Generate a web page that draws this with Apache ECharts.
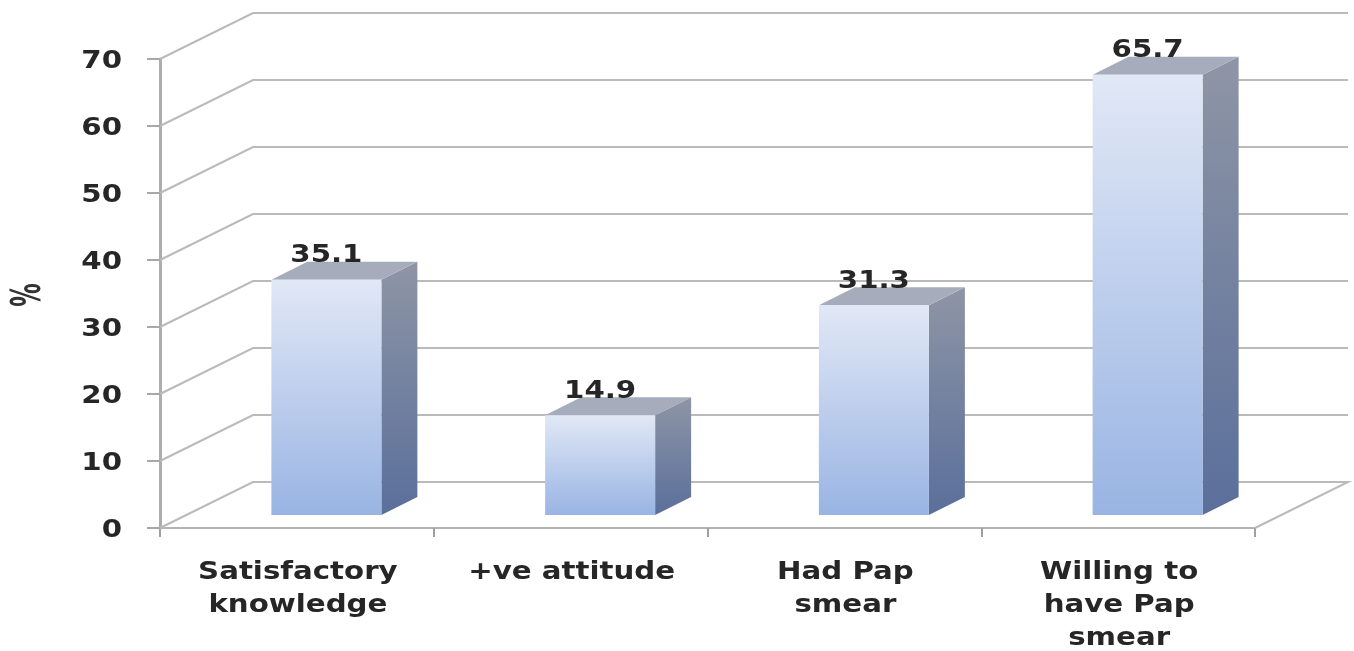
<!DOCTYPE html>
<html>
<head>
<meta charset="utf-8">
<style>html,body{margin:0;padding:0;background:#fff}#chart{width:1354px;height:651px}</style>
<script src="https://cdn.jsdelivr.net/npm/echarts@6/dist/echarts.min.js"></script>
</head>
<body>
<div id="chart"></div>
<script>
const categories = ['Satisfactory\nknowledge', '+ve attitude', 'Had Pap\nsmear', 'Willing to\nhave Pap\nsmear'];
const percentValues = [35.1, 14.9, 31.3, 65.7];
const tickValues = [0, 10, 20, 30, 40, 50, 60, 70];

// Oblique projection of the chart box and of each column
const wallDx = 93, wallDy = 46;
const barDx = 36, barDy = 18, barWidth = 110;
const barShiftX = 29.5, barShiftY = 13;

// All labels use a wide bold face, stretched horizontally
const textFont = 'bold 25px "DejaVu Sans"';
const textColor = '#262626';
const textStretch = 1.17;

const chart = echarts.init(document.getElementById('chart'));
const vGrad = (a, b) => new echarts.graphic.LinearGradient(0, 0, 0, 1, [
  { offset: 0, color: a }, { offset: 1, color: b }
]);

function renderWall(params, api) {
  const cs = params.coordSys;
  const v = api.value(1);
  const y = api.coord([0, v])[1];
  const x0 = cs.x, x1 = cs.x + cs.width;
  const pts = [[x0, y], [x0 + wallDx, y - wallDy], [x1 + wallDx, y - wallDy]];
  if (v === 0) pts.push([x1, y]);
  return {
    type: 'polyline',
    shape: { points: pts },
    style: { fill: null, stroke: '#bababa', lineWidth: 2 },
    silent: true
  };
}

function renderBar(params, api) {
  const i = api.value(0), v = api.value(1);
  const base = api.coord([i, 0]);
  const top = api.coord([i, v]);
  const l = base[0] + barShiftX - barWidth / 2, r = l + barWidth;
  const b = base[1] - barShiftY, t = top[1] - barShiftY;
  return {
    type: 'group',
    children: [
      {
        type: 'polygon',
        shape: { points: [[r, t], [r + barDx, t - barDy], [r + barDx, b - barDy], [r, b]] },
        style: { fill: vGrad('#8e95a5', '#5a6f9b') }
      },
      {
        type: 'polygon',
        shape: { points: [[l, t], [l + barDx, t - barDy], [r + barDx, t - barDy], [r, t]] },
        style: { fill: '#a6acbb' }
      },
      {
        type: 'rect',
        shape: { x: l, y: t, width: barWidth, height: b - t },
        style: { fill: vGrad('#e1e8f6', '#99b4e3') }
      },
      {
        type: 'text',
        x: (l + r) / 2, y: t - barDy - 6,
        scaleX: textStretch,
        style: {
          text: String(v),
          align: 'center', verticalAlign: 'middle',
          font: textFont, fill: textColor
        }
      }
    ]
  };
}

function renderTickLabel(params, api) {
  const v = api.value(1);
  const y = api.coord([0, v])[1];
  return {
    type: 'text',
    x: params.coordSys.x - 38, y: y + 2,
    scaleX: textStretch,
    style: {
      text: String(v),
      align: 'right', verticalAlign: 'middle',
      font: textFont, fill: textColor
    }
  };
}

function renderCategoryLabel(params, api) {
  const i = api.value(0);
  const p = api.coord([i, 0]);
  return {
    type: 'text',
    x: p[0] + 1, y: p[1] + 28,
    scaleX: textStretch,
    style: {
      text: categories[i],
      align: 'center', verticalAlign: 'top', lineHeight: 33,
      font: textFont, fill: textColor
    }
  };
}

chart.setOption({
  animation: false,
  backgroundColor: '#fff',
  grid: { left: 160, right: 99, top: 59, bottom: 123, outerBoundsMode: 'none' },
  xAxis: {
    type: 'category',
    data: categories,
    axisLine: { lineStyle: { color: '#b4b4b4', width: 2 } },
    axisTick: { show: true, interval: 0, length: 9, lineStyle: { color: '#a0a0a0', width: 2 } },
    axisLabel: { show: false, interval: 0 }
  },
  yAxis: {
    type: 'value', min: 0, max: 70, interval: 10,
    axisLine: { show: true, lineStyle: { color: '#adadad', width: 3 } },
    axisTick: { show: true, length: 13, lineStyle: { color: '#a8a8a8', width: 2 } },
    splitLine: { show: false },
    axisLabel: { show: false }
  },
  graphic: [{
    type: 'text',
    x: 30, y: 295,
    rotation: Math.PI / 2,
    scaleX: 0.9, scaleY: 1.55,
    style: {
      text: '%',
      align: 'center', verticalAlign: 'middle',
      font: 'bold 26px "DejaVu Sans"', fill: '#333'
    }
  }],
  series: [
    {
      type: 'custom', z: 1, clip: false, silent: true,
      renderItem: renderWall,
      data: tickValues.map(v => [0, v]),
      encode: { x: 0, y: 1 }
    },
    {
      type: 'custom', z: 3, clip: false,
      renderItem: renderBar,
      data: percentValues.map((v, i) => [i, v]),
      encode: { x: 0, y: 1 }
    },
    {
      type: 'custom', z: 4, clip: false, silent: true,
      renderItem: renderTickLabel,
      data: tickValues.map(v => [0, v]),
      encode: { x: 0, y: 1 }
    },
    {
      type: 'custom', z: 4, clip: false, silent: true,
      renderItem: renderCategoryLabel,
      data: categories.map((c, i) => [i, 0]),
      encode: { x: 0, y: 1 }
    }
  ]
});
</script>
</body>
</html>
